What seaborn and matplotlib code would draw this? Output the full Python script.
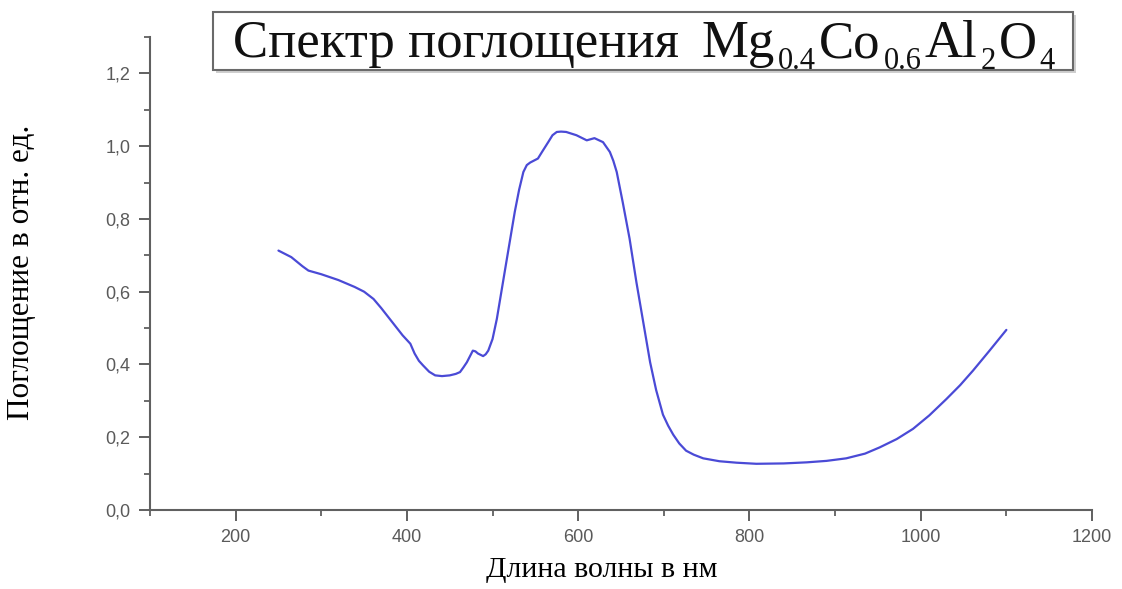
import numpy as np
import pandas as pd
import matplotlib
matplotlib.use("Agg")
import matplotlib.pyplot as plt
import seaborn as sns
from matplotlib.patches import Rectangle
from matplotlib.ticker import MultipleLocator, FuncFormatter

# Absorption spectrum of Mg0.4Co0.6Al2O4
wavelength_nm = [250, 265, 278, 285, 300, 320, 339, 350, 361, 370, 380, 395, 404,
                 409, 414, 419, 426, 433, 441, 450, 457, 462, 466, 470, 477, 480,
                 483, 489, 492, 495, 500, 505, 516, 526, 531, 536, 540, 544, 553,
                 558, 565, 570, 575, 580, 586, 598, 610, 619, 629, 637, 641, 645,
                 652, 660, 668, 676, 684, 691, 699, 705, 711, 718, 726, 735, 746,
                 765, 785, 808, 840, 867, 890, 913, 935, 952, 972, 991, 1010, 1030,
                 1046, 1061, 1080, 1100]
absorbance = [0.713, 0.695, 0.670, 0.658, 0.648, 0.632, 0.613, 0.600, 0.580, 0.555,
              0.525, 0.480, 0.457, 0.430, 0.410, 0.397, 0.380, 0.370, 0.368, 0.370,
              0.374, 0.379, 0.392, 0.406, 0.438, 0.436, 0.430, 0.423, 0.428, 0.438,
              0.470, 0.525, 0.680, 0.820, 0.880, 0.929, 0.948, 0.955, 0.966, 0.985,
              1.011, 1.030, 1.039, 1.040, 1.039, 1.030, 1.016, 1.022, 1.011, 0.984,
              0.960, 0.929, 0.846, 0.746, 0.626, 0.516, 0.406, 0.330, 0.262, 0.232,
              0.207, 0.183, 0.163, 0.152, 0.142, 0.134, 0.130, 0.127, 0.128, 0.131,
              0.135, 0.142, 0.155, 0.172, 0.195, 0.223, 0.260, 0.305, 0.343, 0.383,
              0.437, 0.495]

title_main = "Спектр поглощения"
formula_parts = [("Mg", False), ("0.4", True), ("Co", False), ("0.6", True),
                 ("Al", False), ("2", True), ("O", False), ("4", True)]
x_label = "Длина волны в нм"
y_label = "Поглощение в отн. ед."

sns.set_theme(style="ticks")
plt.rcParams["font.family"] = ["Liberation Sans", "DejaVu Sans"]

df = pd.DataFrame({"nm": wavelength_nm, "A": absorbance})

W, H = 1122, 589
fig = plt.figure(figsize=(W / 100, H / 100), dpi=100)
ax = fig.add_axes([150 / W, 79 / H, 942 / W, 473 / H])

sns.lineplot(data=df, x="nm", y="A", ax=ax, color="#4a4ad6", linewidth=1.6,
             sort=False, estimator=None)
for ln in ax.lines:
    ln.set_solid_joinstyle("round")
    ln.set_solid_capstyle("round")

ax.set_xlim(100, 1200)
ax.set_ylim(0, 1.3)
ax.xaxis.set_major_locator(MultipleLocator(200))
ax.xaxis.set_minor_locator(MultipleLocator(100))
ax.yaxis.set_major_locator(MultipleLocator(0.2))
ax.yaxis.set_minor_locator(MultipleLocator(0.1))
ax.xaxis.set_major_formatter(FuncFormatter(lambda v, p: "" if v < 150 else f"{v:.0f}"))
ax.yaxis.set_major_formatter(FuncFormatter(lambda v, p: f"{v:.1f}".replace(".", ",")))

for side in ("top", "right"):
    ax.spines[side].set_visible(False)
for side in ("left", "bottom"):
    ax.spines[side].set_color("#606060")
    ax.spines[side].set_linewidth(1.5)

ax.tick_params(which="major", direction="out", length=8, width=1.4, color="#606060",
               labelsize=13, labelcolor="#5a5a5a", pad=6)
ax.tick_params(which="minor", direction="out", length=4.5, width=1.3, color="#606060")

ax.set_xlabel("")
ax.set_ylabel("")
fig.text(602 / W, 1 - 570 / H, x_label, ha="center", va="center",
         fontsize=21.5, family="Liberation Serif", color="black")
fig.text(22 / W, 1 - 272 / H, y_label, ha="center", va="center", rotation=90,
         fontsize=22.5, family="Liberation Serif", color="black")

# Framed title with a soft shadow
fig.patches.append(Rectangle((216 / W, 1 - 73 / H), 860 / W, 58 / H,
                             transform=fig.transFigure, facecolor="#cfcfcf",
                             edgecolor="none", zorder=5))
fig.patches.append(Rectangle((213 / W, 1 - 70 / H), 860 / W, 58 / H,
                             transform=fig.transFigure, facecolor="white",
                             edgecolor="#6a6a6a", linewidth=1.5, zorder=6))
fig.text(233 / W, 1 - 57 / H, title_main, ha="left", va="baseline",
         fontsize=38, family="Liberation Serif", color="#111111", zorder=7)

# Chemical formula: each part placed right after the previous one
renderer = fig.canvas.get_renderer()
cursor = 702.0
for txt, is_sub in formula_parts:
    t = fig.text(cursor / W, 1 - (69 if is_sub else 57) / H, txt, ha="left",
                 va="baseline", fontsize=22 if is_sub else 38,
                 family="Liberation Serif", color="#111111", zorder=7)
    cursor = t.get_window_extent(renderer).x1 + 3

fig.savefig("out.png", dpi=100)
